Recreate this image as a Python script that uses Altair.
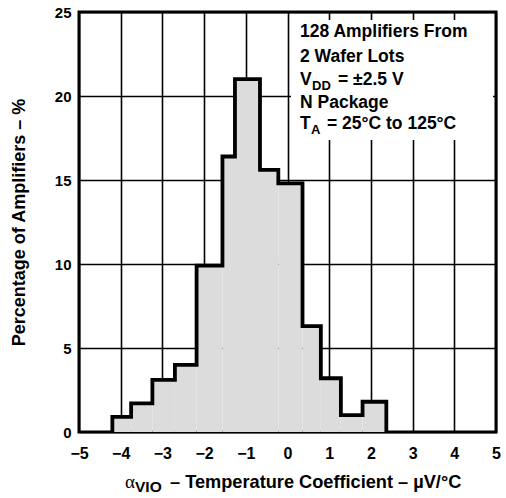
import altair as alt
import pandas as pd

# Histogram bins (left/right edges, µV/°C) and percentage of amplifiers
bin_start = [-4.2, -3.75, -3.24, -2.70, -2.18, -1.56, -1.26, -0.66, -0.22, 0.36, 0.80, 1.28, 1.80]
bin_end = [-3.75, -3.24, -2.70, -2.18, -1.56, -1.26, -0.66, -0.22, 0.36, 0.80, 1.28, 1.80, 2.37]
percent = [0.9, 1.7, 3.1, 4.0, 9.9, 16.4, 21.0, 15.6, 14.8, 6.3, 3.2, 1.0, 1.8]

x_ticks = [-5, -4, -3, -2, -1, 0, 1, 2, 3, 4, 5]
y_ticks = [0, 5, 10, 15, 20, 25]

FONT = "Liberation Sans"

bars = pd.DataFrame({"x0": bin_start, "x1": bin_end, "pct": percent})

# outline of the histogram (step silhouette) built from the bins
ox, oy = [bin_start[0]], [0.0]
for s, e, p in zip(bin_start, bin_end, percent):
    ox += [s, e]
    oy += [p, p]
ox.append(bin_end[-1])
oy.append(0.0)
outline = pd.DataFrame({"x": ox, "y": oy, "o": list(range(len(ox)))})

xs = alt.Scale(domain=[-5, 5], nice=False, zero=False)
ys = alt.Scale(domain=[0, 25], nice=False, zero=False)

base_x = alt.X("x0:Q", scale=xs, axis=alt.Axis(
    values=x_ticks, title=None, grid=True, gridColor="black", gridWidth=1.6, gridOpacity=1,
    ticks=False, domain=False, labelFont=FONT, labelFontWeight="bold", labelFontSize=16,
    labelColor="black", labelPadding=13, labelFlush=False))
base_y = alt.Y("pct:Q", scale=ys, axis=alt.Axis(
    values=y_ticks, title="Percentage of Amplifiers – %", grid=True, gridColor="black",
    gridWidth=1.6, gridOpacity=1, ticks=False, domain=False, labelFont=FONT,
    labelFontWeight="bold", labelFontSize=15, labelColor="black", labelPadding=8,
    labelFlush=False, titleFont=FONT, titleFontWeight="bold", titleFontSize=18,
    titleColor="black", titleX=-60, titleY=210, titleAngle=-90, titleAlign="center",
    titleBaseline="middle"))

fill = alt.Chart(bars).mark_rect(color="#dcdcdc").encode(
    x=base_x, x2="x1:Q", y=base_y, y2=alt.datum(0))

edge = alt.Chart(outline).mark_line(color="black", strokeWidth=3.8, strokeJoin="miter").encode(
    x=alt.X("x:Q", scale=xs), y=alt.Y("y:Q", scale=ys), order="o:Q")

one = pd.DataFrame({"k": [0]})
box = alt.Chart(one).mark_rect(color="white").encode(
    x=alt.value(212), x2=alt.value(414), y=alt.value(8), y2=alt.value(128))

# in-box annotation pieces
ann_text = ["128 Amplifiers From", "2 Wafer Lots", "V", "DD", "= ±2.5 V", "N Package",
            "T", "A", "= 25°C to 125°C"]
ann_x = [221, 221, 221, 233, 259, 221, 221, 232, 248]
ann_y = [25, 50, 73, 78, 73, 96, 117, 122, 117]
ann_size = [17.5, 17.5, 17.5, 13, 17.5, 17.5, 17.5, 13, 17.5]

layers = [fill, box, edge]
for t, x, y, s in zip(ann_text, ann_x, ann_y, ann_size):
    layers.append(alt.Chart(one).mark_text(
        text=t, align="left", baseline="alphabetic", font=FONT, fontWeight="bold",
        fontSize=s, color="black").encode(x=alt.value(x), y=alt.value(y)))

# x axis title with subscript
xt_text = ["α", "VIO", "– Temperature Coefficient – µV/°C"]
xt_x = [46, 56, 91]
xt_y = [476, 480, 476]
xt_size = [19, 15.5, 18.2]
xt_font = ["Liberation Serif", FONT, FONT]
xt_weight = ["normal", "bold", "bold"]
for t, x, y, s, f, w in zip(xt_text, xt_x, xt_y, xt_size, xt_font, xt_weight):
    layers.append(alt.Chart(one).mark_text(
        text=t, align="left", baseline="alphabetic", font=f, fontWeight=w,
        fontSize=s, color="black").encode(x=alt.value(x), y=alt.value(y)))

chart = alt.layer(*layers).properties(
    width=417, height=420,
    autosize=alt.AutoSizeParams(type="none"),
    padding={"left": 79, "top": 12, "right": 10, "bottom": 66},
    background="white",
).configure_view(stroke="black", strokeWidth=3)

chart.save("out.html", embed_options={"renderer": "svg", "actions": False})
